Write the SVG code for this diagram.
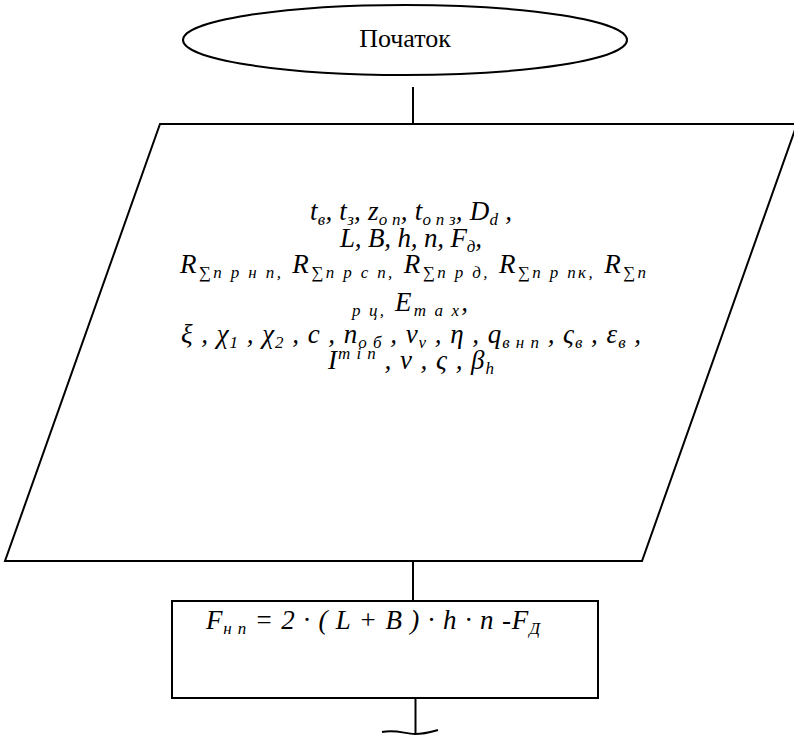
<svg xmlns="http://www.w3.org/2000/svg" width="794" height="736" viewBox="0 0 794 736">
<style>
.shape{fill:#fff;stroke:#000;stroke-width:2}
.conn{stroke:#000;stroke-width:2;fill:none}
.t{font-family:'Liberation Serif',Tinos,'Times New Roman','DejaVu Serif',serif;font-size:26px;fill:#000}
.m{font-family:'Liberation Serif',Tinos,'Times New Roman','DejaVu Serif',serif;font-style:italic;font-size:27px;fill:#000}
.sub{font-size:17px;baseline-shift:-5px}
.sup{font-size:17px;baseline-shift:10px}
</style>
<rect width="794" height="736" fill="#fff"/>
<g id="connectors">
<line class="conn" x1="413" y1="87" x2="413" y2="124"/>
<line class="conn" x1="413" y1="561" x2="413" y2="601"/>
<line class="conn" x1="415.5" y1="698" x2="415.5" y2="734"/>
<path class="conn" d="M382,732 C396,729 405,734 415,734 C425,734 431,732 438,730"/>
<line class="conn" x1="281" y1="289" x2="281" y2="329"/>
</g>
<g id="start">
<ellipse class="shape" cx="405" cy="40" rx="222" ry="35"/>
<text class="t" x="405" y="47" text-anchor="middle">Початок</text>
</g>
<g id="input">
<polygon class="shape" points="160,124 797,124 642,561 5,561"/>
<text class="m" x="411" y="220" text-anchor="middle" textLength="202" lengthAdjust="spacing">t<tspan class="sub">в</tspan>, t<tspan class="sub">з</tspan>, z<tspan class="sub">о п</tspan>, t<tspan class="sub">о п  з</tspan>, D<tspan class="sub">d</tspan> ,</text>
<text class="m" x="411" y="247" text-anchor="middle" textLength="142" lengthAdjust="spacing">L, B, h, n, F<tspan class="sub">д</tspan>,</text>
<text class="m" x="413" y="273" text-anchor="middle" textLength="466" lengthAdjust="spacing">R<tspan class="sub">∑п р  н п,</tspan> R<tspan class="sub">∑п р  с п,</tspan> R<tspan class="sub">∑п р  д,</tspan> R<tspan class="sub">∑п р  пк,</tspan> R<tspan class="sub">∑п</tspan></text>
<text class="m" x="410" y="311" text-anchor="middle" textLength="116" lengthAdjust="spacing"><tspan class="sub">р  ц,</tspan> E<tspan class="sub">m a x</tspan>,</text>
<text class="m" x="411" y="343" text-anchor="middle" textLength="460" lengthAdjust="spacing">ξ  , χ<tspan class="sub">1</tspan> , χ<tspan class="sub">2</tspan> , c  , n<tspan class="sub">о б</tspan> , ν<tspan class="sub">ν</tspan> , η  , q<tspan class="sub">в н  п</tspan> , ς<tspan class="sub">в</tspan> , ε<tspan class="sub">в</tspan> ,</text>
<text class="m" x="411" y="369" text-anchor="middle" textLength="166" lengthAdjust="spacing">I<tspan class="sup">m i n</tspan> , ν  , ς  , β<tspan class="sub">h</tspan></text>
</g>
<g id="process">
<rect class="shape" x="172" y="601" width="426" height="97"/>
<text class="m" x="206" y="629" textLength="334" lengthAdjust="spacing">F<tspan class="sub">н п</tspan> = 2 · ( L + B ) · h · n -F<tspan class="sub">Д</tspan></text>
</g>
</svg>
